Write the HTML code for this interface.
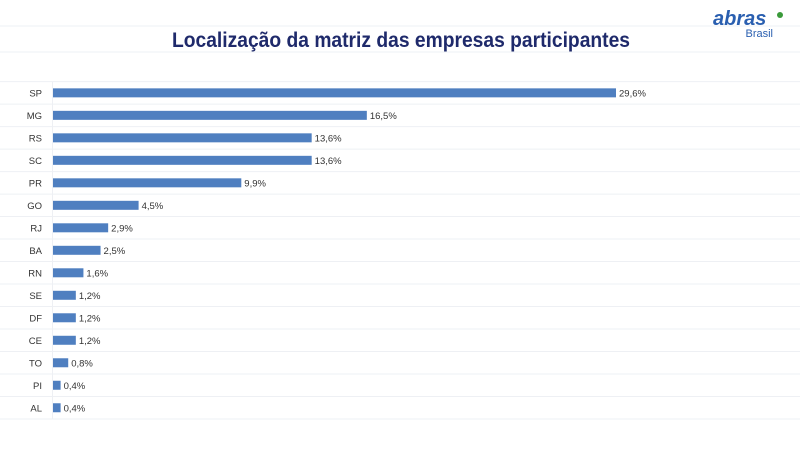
<!DOCTYPE html>
<html><head><meta charset="utf-8"><style>
body{margin:0;width:800px;height:450px;background:#fff;overflow:hidden;font-family:"Liberation Sans",sans-serif}
svg{display:block}
</style></head><body>
<svg id="chart" width="800" height="450">
<line x1="0" y1="26" x2="800" y2="26" stroke="#eef0f4"/>
<line x1="0" y1="52" x2="800" y2="52" stroke="#eef0f4"/>
<text x="172" y="47" textLength="458" lengthAdjust="spacingAndGlyphs" font-size="21" font-weight="bold" fill="#1f2a6b">Localização da matriz das empresas participantes</text>
<g>
<text x="713" y="25" font-size="20" font-weight="bold" font-style="italic" fill="#2a5fb0">abras</text>
<circle cx="780" cy="15" r="3" fill="#3a9a3a"/>
<text x="773" y="37" text-anchor="end" font-size="11" fill="#2a5fb0">Brasil</text>
</g>
<g id="plot"></g>
</svg>
<script>
const categories=["SP","MG","RS","SC","PR","GO","RJ","BA","RN","SE","DF","CE","TO","PI","AL"];
const values=[29.6,16.5,13.6,13.6,9.9,4.5,2.9,2.5,1.6,1.2,1.2,1.2,0.8,0.4,0.4];
const labels=["29,6%","16,5%","13,6%","13,6%","9,9%","4,5%","2,9%","2,5%","1,6%","1,2%","1,2%","1,2%","0,8%","0,4%","0,4%"];
const x0=53,scale=563/29.6,plotTop=81.6,step=(419-81.6)/categories.length;
const xs=v=>x0+v*scale, yc=i=>plotTop+step*(i+0.5);
const g=document.getElementById('plot'),NS="http://www.w3.org/2000/svg";
function mk(t,a){const e=document.createElementNS(NS,t);for(const k in a)e.setAttribute(k,a[k]);g.appendChild(e);return e;}
for(let i=0;i<=categories.length;i++){
 const l=mk('line',{x1:0,x2:800,y1:plotTop+step*i,y2:plotTop+step*i,stroke:'#eef0f4'});
 
 
}
const ax=mk('line',{x1:x0-0.5,x2:x0-0.5,y1:plotTop,y2:419,stroke:'#eef0f4'});


categories.forEach((c,i)=>{
 const y=yc(i);
 const t=mk('text',{x:42,y:y+3.5,'text-anchor':'end','font-size':9.5,fill:'#333'});t.textContent=c;
 
 
 const b=mk('rect',{x:x0,y:y-4.5,width:values[i]*scale,height:9,fill:'#4f7fc0'});
 
 
 const v=mk('text',{x:xs(values[i])+3,y:y+3.5,'font-size':9.5,fill:'#333'});v.textContent=labels[i];
 
 
});
</script>
</body></html>
